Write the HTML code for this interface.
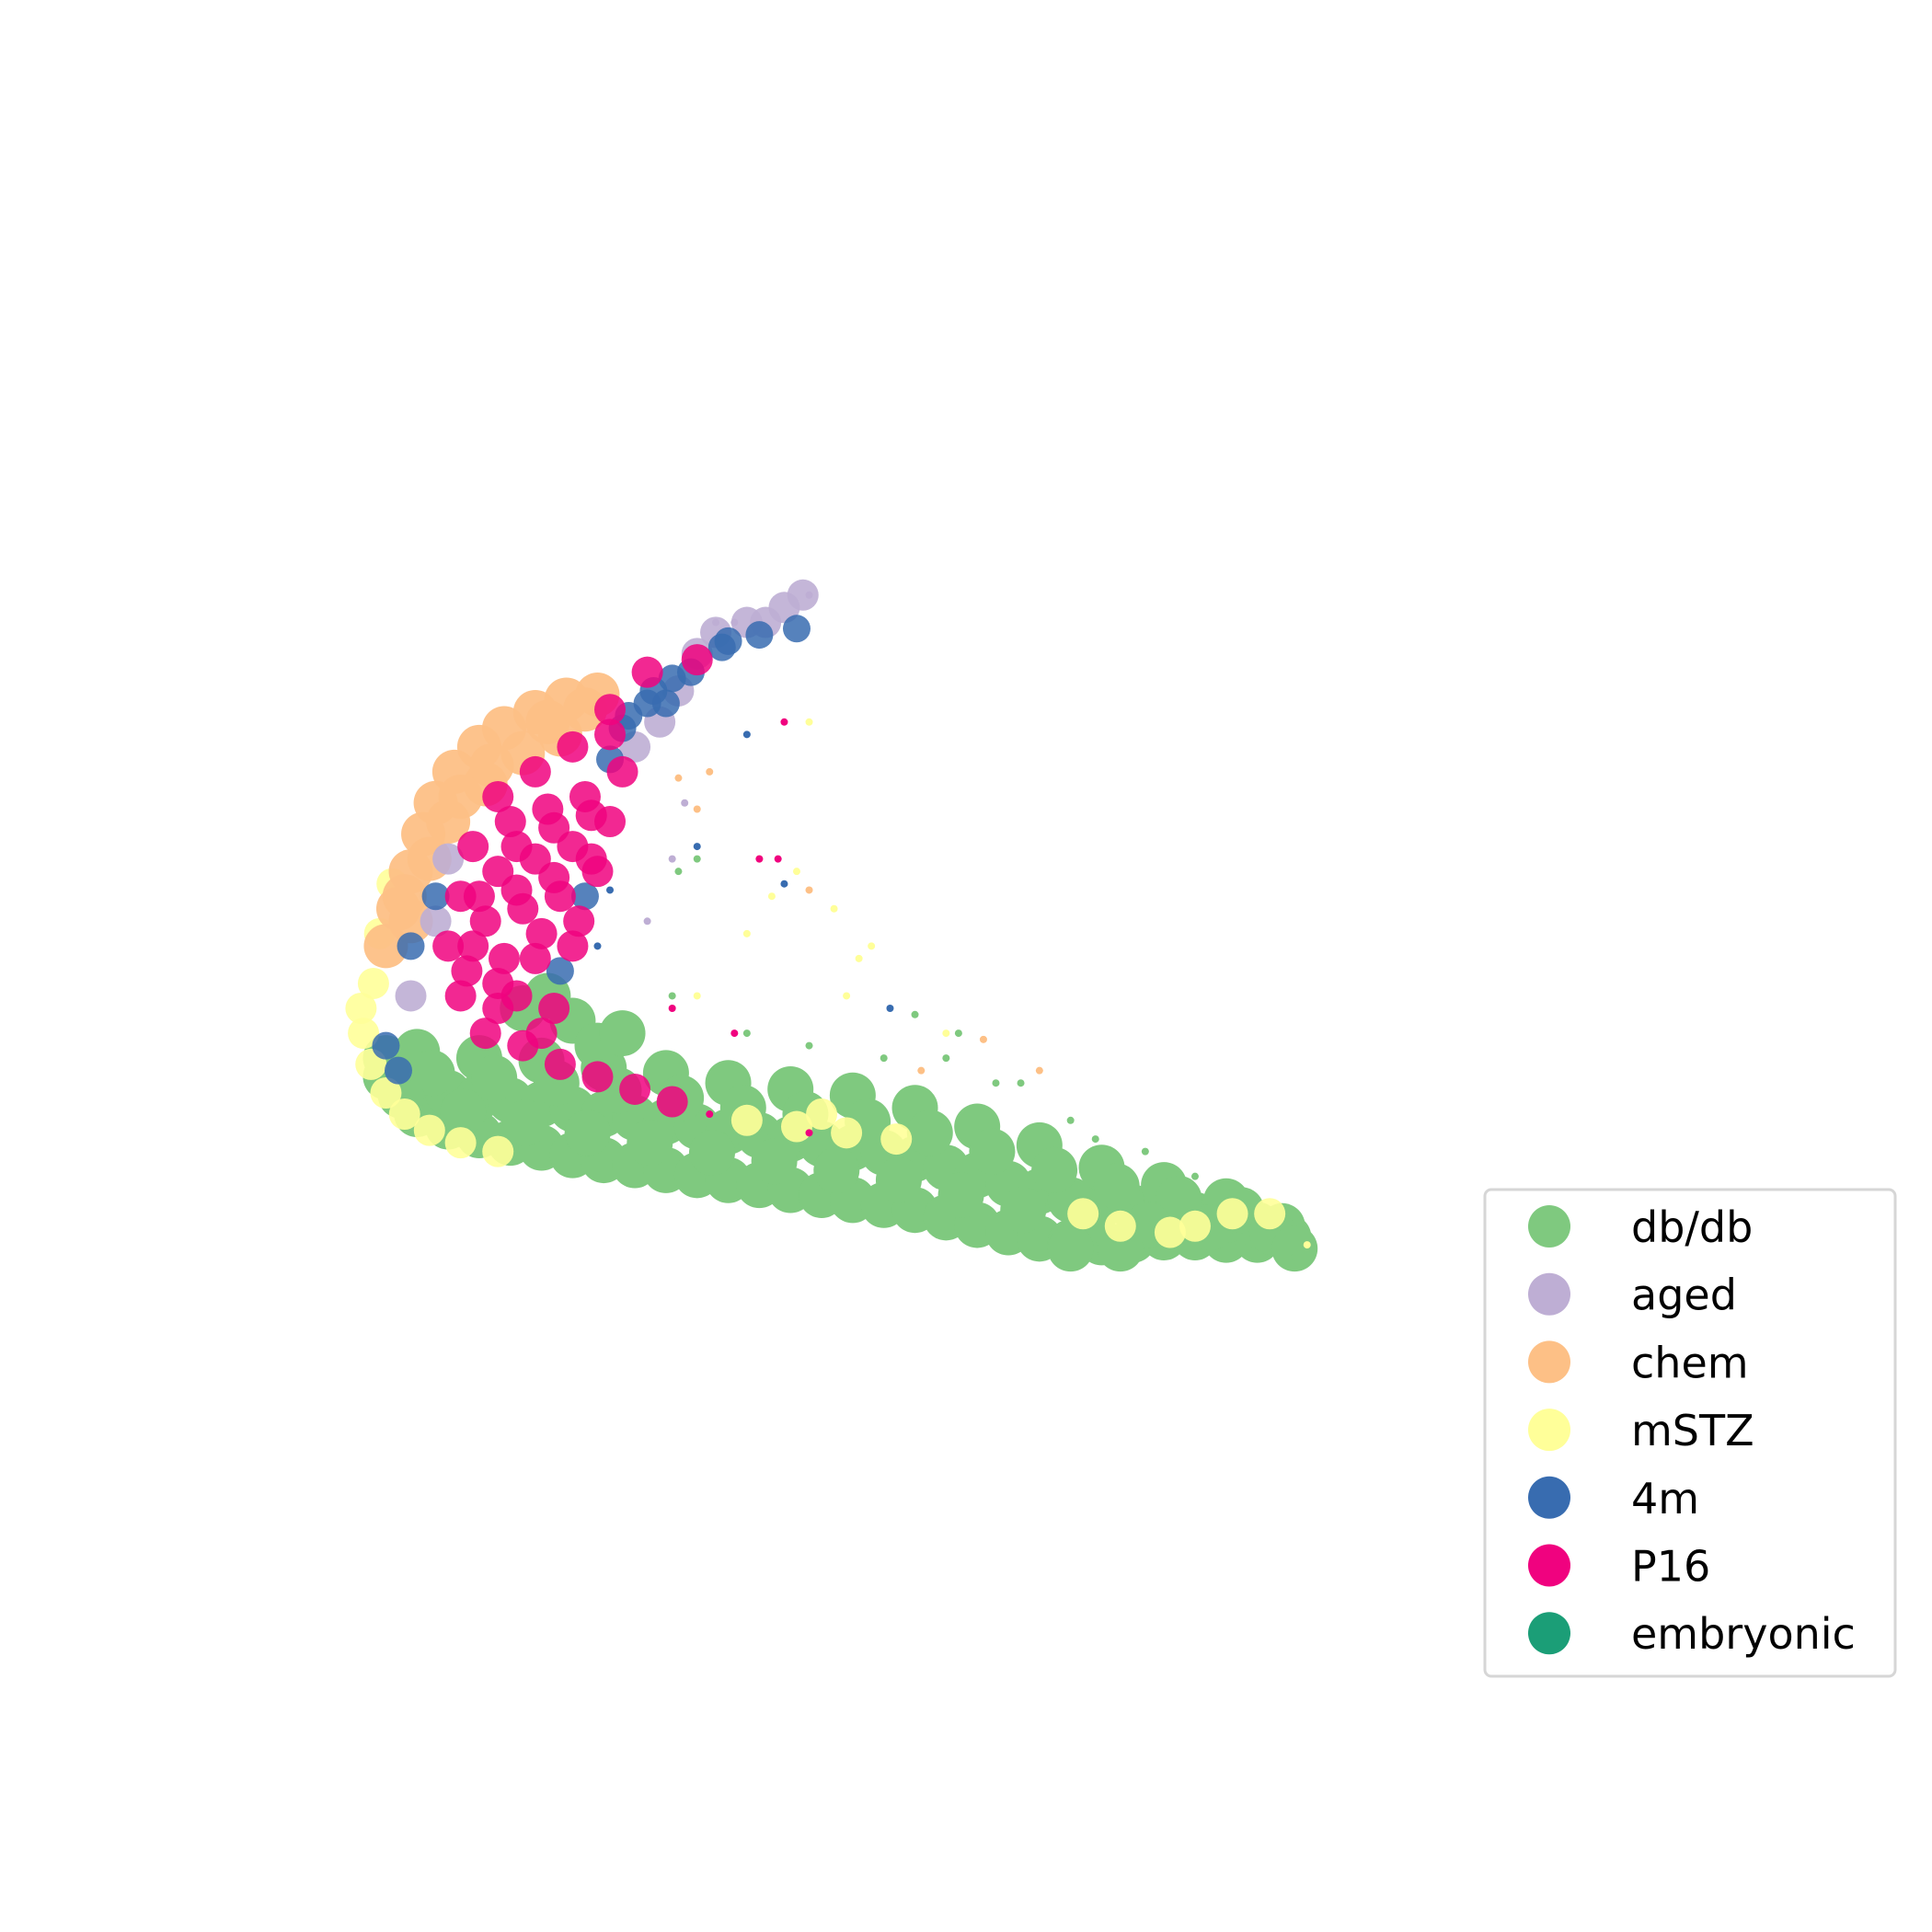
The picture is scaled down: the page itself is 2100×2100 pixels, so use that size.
<!DOCTYPE html>
<html><head><meta charset="utf-8"><style>html,body{margin:0;padding:0;background:#fff}svg{display:block}</style></head>
<body>
<svg id="chart" width="2100" height="2100" viewBox="0 0 2100 2100" xmlns="http://www.w3.org/2000/svg">
<g id="plot"></g>
<g id="legend"></g>
</svg>
<script>
const seriesNames = ["db/db","aged","chem","mSTZ","4m","P16","embryonic"];
const seriesColors = ["#7fc97f","#beaed4","#fdc086","#ffff99","#386cb0","#f0027f","#1b9e77"];
const greenDense = [[310,865],[335,895],[360,905],[385,912],[410,918],[435,922],[460,928],[485,932],[510,936],[535,940],[560,944],[585,948],[610,952],[635,956],[660,960],[685,964],[710,968],[735,972],[760,978],[785,984],[810,990],[835,995],[860,998],[885,998],[910,996],[935,994],[960,994],[985,996],[1010,996],[1035,994],
[310,850],[335,870],[360,878],[385,881],[410,884],[435,887],[460,891],[485,895],[510,898],[535,901],[560,905],[585,909],[610,912],[635,915],[660,919],[685,922],[710,926],[735,931],[760,938],[785,944],[810,951],[835,957],[860,964],[885,968],[910,970],[935,973],[960,976],[985,980],[1010,984],
[335,845],[385,850],[435,852],[485,858],[535,862],[585,870],[635,875],[685,880],[735,890],[785,905],[835,920],[885,938],[935,952],[985,965],[440,800],[460,820],[420,810],[480,840],[500,830]];
const greenFill = [[347,862],[397,866],[447,870],[497,876],[547,882],[597,890],[647,895],[697,901],[747,910],[797,925],[847,940],[897,953],[947,963],[997,972],[1030,985],[322,880],[372,893],[422,902],[472,910],[522,918],[572,926],[622,933],[672,940],[722,948],[772,960],[822,972],[872,982],[922,984],[972,986],[1022,990],[860,1003],[900,1003],[1040,1003]];
const greenSparse = [[735,815],[560,690],[545,700],[770,830],[820,870],[860,900],[960,945],[1040,1010],[710,850],[760,850],[800,870],[880,915],[920,925],[540,800],[600,830],[650,840]];
const yellowDense = [[292,830],[298,855],[310,878],[325,895],[345,908],[370,918],[400,925],[300,790],[290,810],[305,750],[315,710],[600,900],[640,905],[680,910],[720,915],[660,895],[870,975],[900,985],[940,990],[990,975],[1020,975],[960,985]];
const yellowSparse = [[650,580],[600,750],[680,800],[700,760],[760,830],[620,720],[560,800],[690,770],[1050,1000],[640,700],[670,730]];
const orangeDense = [[330,700],[340,670],[350,645],[365,620],[385,600],[405,585],[430,572],[455,562],[480,558],[320,730],[310,760],[360,660],[390,630],[420,605],[450,590],[330,740],[345,690],[370,640],[395,615],[440,580],[470,570],[325,720]];
const orangeSparse = [[610,690],[650,715],[570,620],[545,625],[740,860],[790,835],[835,860],[560,650]];
const purpleDense = [[560,525],[600,500],[630,488],[645,478],[530,580],[510,600],[545,555],[360,690],[330,800],[350,740],[575,508],[615,500]];
const purpleSparse = [[550,645],[520,740],[590,500],[650,478],[575,500],[540,690]];
const blueDense = [[540,545],[580,520],[610,510],[640,505],[520,565],[500,585],[490,610],[350,720],[330,760],[310,840],[320,860],[470,720],[450,780],[525,555],[555,540],[585,515],[505,575],[535,565]];
const blueSparse = [[630,710],[715,810],[600,590],[560,680],[490,715],[480,760]];
const pinkDense = [[400,640],[430,620],[460,600],[490,590],[380,680],[410,660],[440,650],[470,640],[500,620],[370,720],[400,700],[430,690],[460,680],[490,660],[360,760],[390,740],[420,730],[450,720],[480,700],[370,800],[400,790],[430,770],[460,760],[390,830],[420,840],[450,855],[480,865],[510,875],[540,885],[520,540],[490,570],[560,530],
[415,680],[445,665],[475,655],[385,720],[415,715],[445,705],[475,690],[375,780],[405,770],[435,750],[465,740],[415,800],[445,810],[435,830],[400,810],[380,760]];
const pinkSparse = [[630,580],[610,690],[625,690],[540,810],[590,830],[650,910],[570,895]];

const S = 2100/1552;
const xAxis = v => v*S;
const yAxis = v => v*S;
const NS = "http://www.w3.org/2000/svg";
const plot = document.getElementById('plot');
function drawSeries(pts, color, r, op, name){
  pts.forEach(p=>{
    const c = document.createElementNS(NS,'circle');
    c.setAttribute('cx', xAxis(p[0])); c.setAttribute('cy', yAxis(p[1]));
    c.setAttribute('r', r); c.setAttribute('fill', color); c.setAttribute('fill-opacity', op);
    
    
    plot.appendChild(c);
  });
}
drawSeries(greenDense, seriesColors[0], 25, 1, 'point-dbdb');
drawSeries(greenFill, seriesColors[0], 25, 1, 'point-dbdb');
drawSeries(greenSparse, seriesColors[0], 4, 1, 'point-dbdb');
drawSeries(yellowDense, seriesColors[3], 17, 0.9, 'point-mstz');
drawSeries(yellowSparse, seriesColors[3], 4, 1, 'point-mstz');
drawSeries(orangeDense, seriesColors[2], 24, 0.95, 'point-chem');
drawSeries(orangeSparse, seriesColors[2], 4, 1, 'point-chem');
drawSeries(purpleDense, seriesColors[1], 17, 0.9, 'point-aged');
drawSeries(purpleSparse, seriesColors[1], 4, 1, 'point-aged');
drawSeries(blueDense, seriesColors[4], 15, 0.85, 'point-4m');
drawSeries(blueSparse, seriesColors[4], 4, 1, 'point-4m');
drawSeries(pinkDense, seriesColors[5], 17, 0.85, 'point-p16');
drawSeries(pinkSparse, seriesColors[5], 4, 1, 'point-p16');

const lg = document.getElementById('legend');
const box = document.createElementNS(NS,'rect');
box.setAttribute('x',1614); box.setAttribute('y',1293); box.setAttribute('width',446); box.setAttribute('height',529);
box.setAttribute('rx',7); box.setAttribute('fill','#fff'); box.setAttribute('stroke','#d6d6d6'); box.setAttribute('stroke-width',3);


lg.appendChild(box);
seriesNames.forEach((n,i)=>{
  const y = 1333 + i*73.7;
  const c = document.createElementNS(NS,'circle');
  c.setAttribute('cx',1684); c.setAttribute('cy',y); c.setAttribute('r',23); c.setAttribute('fill',seriesColors[i]);
  
  
  lg.appendChild(c);
  const t = document.createElementNS(NS,'text');
  t.setAttribute('x',1773); t.setAttribute('y',y+17);
  t.setAttribute('font-family','"DejaVu Sans","Liberation Sans",sans-serif');
  t.setAttribute('font-size',46); t.setAttribute('fill','#000');
  t.textContent = n;
  
  
  lg.appendChild(t);
});
</script>
</body></html>
